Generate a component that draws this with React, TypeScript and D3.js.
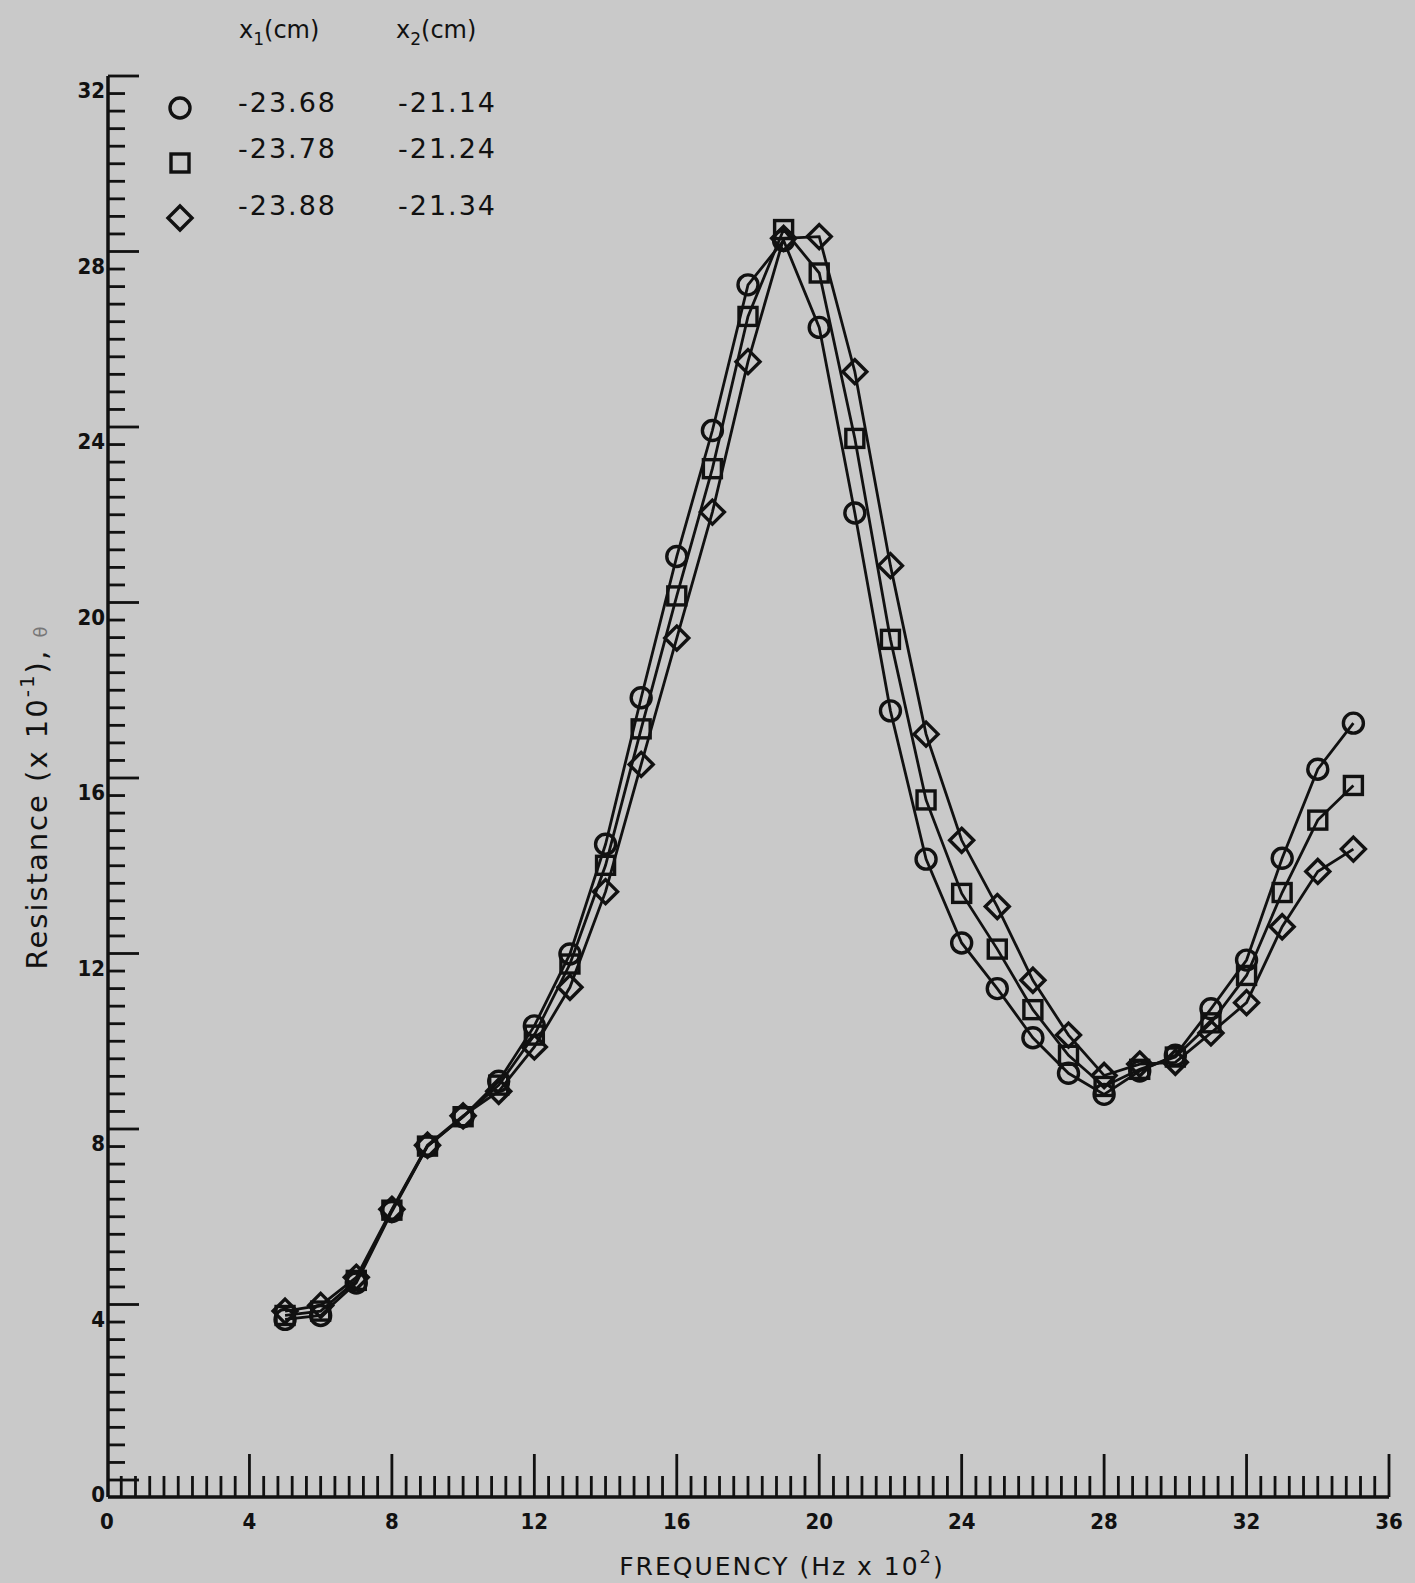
import React, { useEffect, useRef } from 'react';
import * as d3 from 'd3';

// frequency (Hz x 10^2)
const freq = [5, 6, 7, 8, 9, 10, 11, 12, 13, 14, 15, 16, 17, 18, 19, 20, 21, 22, 23, 24, 25, 26, 27, 28, 29, 30, 31, 32, 33, 34, 35];

// resistance (x 10^-1) for the three probe positions
const circleVals = [3.66, 3.75, 4.49, 6.12, 7.61, 8.28, 9.09, 10.35, 11.99, 14.49, 17.83, 21.05, 23.92, 27.24, 28.25, 26.27, 22.04, 17.53, 14.15, 12.24, 11.2, 10.08, 9.27, 8.79, 9.32, 9.68, 10.74, 11.85, 14.17, 16.2, 17.25];
const squareVals = [3.75, 3.85, 4.55, 6.15, 7.61, 8.28, 9.0, 10.14, 11.76, 14.01, 17.12, 20.15, 23.05, 26.52, 28.5, 27.51, 23.74, 19.16, 15.5, 13.37, 12.1, 10.72, 9.68, 8.97, 9.36, 9.64, 10.42, 11.5, 13.39, 15.04, 15.83];
const diamondVals = [3.85, 3.98, 4.62, 6.17, 7.63, 8.3, 8.86, 9.87, 11.23, 13.41, 16.31, 19.19, 22.06, 25.49, 28.3, 28.34, 25.26, 20.84, 17.0, 14.58, 13.07, 11.39, 10.14, 9.22, 9.48, 9.52, 10.19, 10.88, 12.61, 13.87, 14.38];

const legendX1 = ['-23.68', '-23.78', '-23.88'];
const legendX2 = ['-21.14', '-21.24', '-21.34'];
const yTickLabels = [0, 4, 8, 12, 16, 20, 24, 28, 32];
const xTickLabels = [0, 4, 8, 12, 16, 20, 24, 28, 32, 36];

const W = 1415;
const H = 1583;
const FONT = '"DejaVu Sans", sans-serif';

export default function App() {
    const ref = useRef<SVGSVGElement>(null);

    useEffect(() => {
        if (!ref.current) return;
        const svg = d3.select(ref.current);
        svg.selectAll('*').remove();

        const x = d3.scaleLinear().domain([0, 36]).range([107, 1389]);
        const y = d3.scaleLinear().domain([0, 32]).range([1480, 76]);
        const xAxisY = 1497;
        const axisX = 108;
        const ink = '#111';
        const isMajor = (d: number) => Math.abs(d / 4 - Math.round(d / 4)) < 1e-6;

        svg.append('rect').attr('width', W).attr('height', H).attr('fill', '#c9c9c9');

        // y axis
        svg.append('line')
            .attr('x1', axisX).attr('x2', axisX)
            .attr('y1', y(32)).attr('y2', xAxisY)
            .attr('stroke', ink).attr('stroke-width', 3.5);
        svg.append('g').selectAll('line')
            .data(d3.range(0, 81).map(i => i * 0.4))
            .join('line')
            .attr('x1', axisX)
            .attr('x2', d => isMajor(d) ? axisX + 31 : axisX + 17)
            .attr('y1', d => y(d)).attr('y2', d => y(d))
            .attr('stroke', ink).attr('stroke-width', 2.8);
        svg.append('g').selectAll('text')
            .data(yTickLabels)
            .join('text')
            .attr('x', axisX - 3)
            .attr('y', d => y(d) + 22)
            .attr('text-anchor', 'end')
            .attr('font-family', FONT)
            .attr('font-stretch', 'condensed')
            .attr('font-weight', 'bold')
            .attr('font-size', 22)
            .attr('fill', ink)
            .text(d => d);

        // x axis
        svg.append('line')
            .attr('x1', axisX).attr('x2', x(36))
            .attr('y1', xAxisY).attr('y2', xAxisY)
            .attr('stroke', ink).attr('stroke-width', 3.5);
        svg.append('g').selectAll('line')
            .data(d3.range(1, 91).map(i => i * 0.4))
            .join('line')
            .attr('x1', d => x(d)).attr('x2', d => x(d))
            .attr('y1', xAxisY)
            .attr('y2', d => isMajor(d) ? xAxisY - 43 : xAxisY - 21)
            .attr('stroke', ink).attr('stroke-width', 2.8);
        svg.append('g').selectAll('text')
            .data(xTickLabels)
            .join('text')
            .attr('x', d => x(d))
            .attr('y', 1529)
            .attr('text-anchor', 'middle')
            .attr('font-family', FONT)
            .attr('font-stretch', 'condensed')
            .attr('font-weight', 'bold')
            .attr('font-size', 22)
            .attr('fill', ink)
            .text(d => d);

        // axis titles
        const xt = svg.append('text')
            .attr('x', 782).attr('y', 1575)
            .attr('text-anchor', 'middle')
            .attr('font-family', FONT)
            .attr('font-size', 25)
            .attr('letter-spacing', 2)
            .attr('fill', ink);
        xt.append('tspan').text('FREQUENCY (Hz x 10');
        xt.append('tspan').attr('dy', -12).attr('font-size', 18).text('2');
        xt.append('tspan').attr('dy', 12).text(')');

        const yt = svg.append('text')
            .attr('transform', 'translate(47,797) rotate(-90)')
            .attr('text-anchor', 'middle')
            .attr('font-family', FONT)
            .attr('font-size', 29)
            .attr('letter-spacing', 2)
            .attr('fill', ink);
        yt.append('tspan').text('Resistance (x 10');
        yt.append('tspan').attr('dy', -13).attr('font-size', 20).text('-1');
        yt.append('tspan').attr('dy', 13).text('), ');
        yt.append('tspan').attr('fill', '#777').attr('font-size', 18).text('\u03b8');

        // series
        const series = [
            { vals: circleVals, sym: 'circle' },
            { vals: squareVals, sym: 'square' },
            { vals: diamondVals, sym: 'diamond' },
        ];
        const line = d3.line<number>()
            .x((_, i) => x(freq[i]))
            .y(d => y(d));

        const drawMarker = (g: any, sym: string, cx: number, cy: number) => {
            if (sym === 'circle') {
                g.append('circle').attr('cx', cx).attr('cy', cy).attr('r', 10);
            } else if (sym === 'square') {
                g.append('rect').attr('x', cx - 9).attr('y', cy - 9).attr('width', 18).attr('height', 18);
            } else {
                g.append('path').attr('d', `M${cx},${cy - 12}L${cx + 12},${cy}L${cx},${cy + 12}L${cx - 12},${cy}Z`);
            }
        };

        series.forEach(s => {
            svg.append('path')
                .datum(s.vals)
                .attr('d', line)
                .attr('fill', 'none')
                .attr('stroke', ink)
                .attr('stroke-width', 2.8);
        });
        series.forEach(s => {
            const g = svg.append('g')
                .attr('fill', 'none')
                .attr('stroke', ink)
                .attr('stroke-width', 3.4);
            s.vals.forEach((v, i) => drawMarker(g, s.sym, x(freq[i]), y(v)));
        });

        // legend
        const lg = svg.append('g')
            .attr('font-family', FONT)
            .attr('fill', ink);
        [239, 396].forEach((hx, k) => {
            const hdr = lg.append('text').attr('x', hx).attr('y', 38).attr('font-size', 24);
            hdr.append('tspan').text('x');
            hdr.append('tspan').attr('dy', 7).attr('font-size', 17).text(k === 0 ? '1' : '2');
            hdr.append('tspan').attr('dy', -7).text('(cm)');
        });

        const rowY = [112, 158, 215];
        const symY = [108, 163, 218];
        const syms = ['circle', 'square', 'diamond'];
        const mg = svg.append('g').attr('fill', 'none').attr('stroke', ink).attr('stroke-width', 3.4);
        syms.forEach((s, i) => drawMarker(mg, s, 180, symY[i]));
        lg.selectAll('text.x1')
            .data(legendX1)
            .join('text')
            .attr('class', 'x1')
            .attr('x', 238)
            .attr('y', (_, i) => rowY[i])
            .attr('font-size', 27)
            .attr('letter-spacing', 2)
            .text(d => d);
        lg.selectAll('text.x2')
            .data(legendX2)
            .join('text')
            .attr('class', 'x2')
            .attr('x', 398)
            .attr('y', (_, i) => rowY[i])
            .attr('font-size', 27)
            .attr('letter-spacing', 2)
            .text(d => d);
    }, []);

    return (
        <svg
            ref={ref}
            width={W}
            height={H}
            style={{ position: 'absolute', left: 0, top: 0, display: 'block' }}
        />
    );
}
